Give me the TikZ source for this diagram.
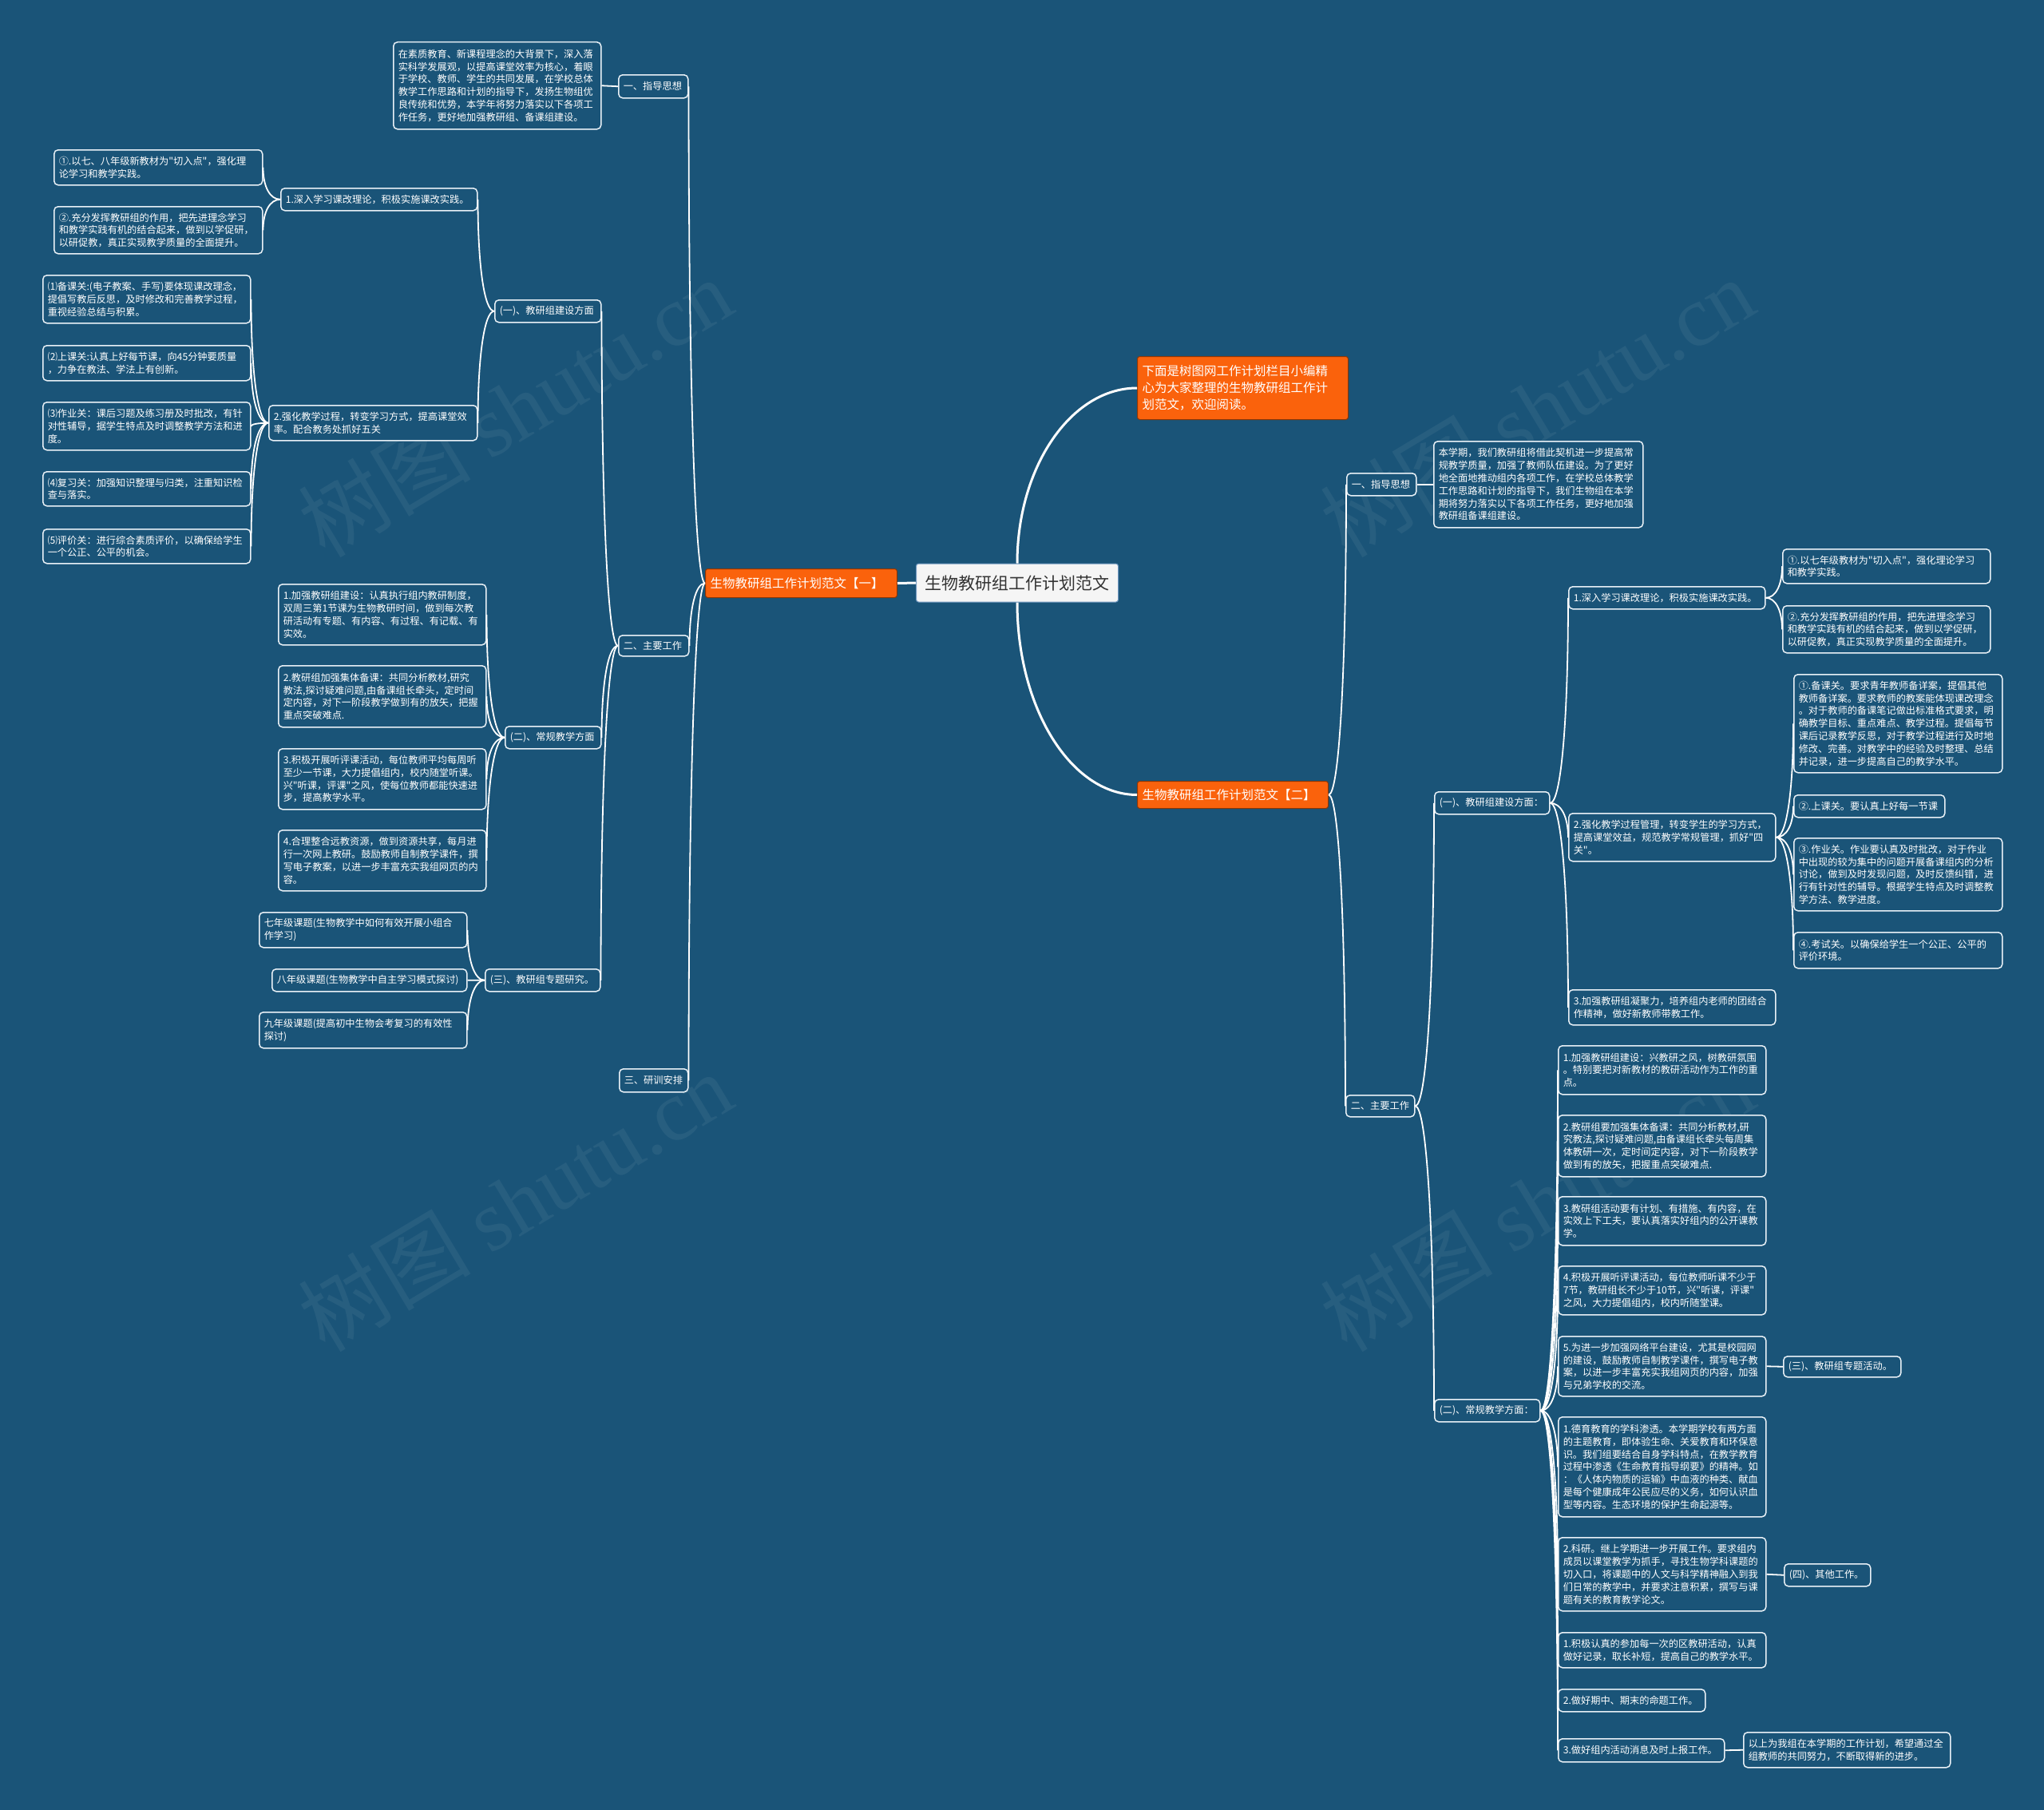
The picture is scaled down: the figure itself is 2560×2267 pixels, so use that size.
\documentclass[tikz,border=0pt]{standalone}
\usepackage{fontspec}
\setmainfont{Noto Sans CJK SC}[Ligatures=TeXOff]
\newfontfamily\wmserif{Liberation Serif}
\usetikzlibrary{calc}
\definecolor{bg}{RGB}{26,84,120}
\definecolor{org}{RGB}{250,98,12}
\definecolor{edgec}{RGB}{232,240,246}
\definecolor{cbord}{RGB}{110,150,190}
\tikzset{
  box/.style={draw=edgec, line width=1.5pt, rounded corners=5pt, fill=bg, text=white,
    align=left, inner xsep=6pt, inner ysep=2pt, font=\fontsize{12.2}{15.8}\selectfont},
  obox/.style={box, draw=org!55!black, fill=org, line width=1pt, rounded corners=3pt,
    font=\fontsize{15.5}{21}\selectfont},
  cbox/.style={draw=cbord, fill=black!4, text=black!80, line width=1pt, rounded corners=3pt,
    font=\fontsize{21}{25}\selectfont, align=center},
  link/.style={draw=white, line width=1.8pt},
  mainlink/.style={draw=white, line width=3pt},
  wm/.style={text=white, opacity=0.06, rotate=31, font=\fontsize{108}{108}\selectfont}
}
% #1 style, #2 name, #3 x1, #4 y1, #5 x2, #6 y2, #7 text
\newcommand\mmbox[7][box]{%
  \pgfmathsetmacro\mmbh{#6-#4}\pgfmathsetmacro\mmtw{#5-#3-12}%
  \node[#1, text width=\mmtw pt, minimum height=\mmbh pt, anchor=north west] (#2) at (#3,#4) {#7};}
% horizontal first, then vertical into child
\newcommand\mmlink[3][link]{%
  \draw[#1] (#2) .. controls ($(#2)!0.6!(#3 |- #2)$) and ($(#3)!0.6!(#3 |- #2)$) .. (#3);}
% vertical first, then horizontal into child
\newcommand\mmlinkv[3][link]{%
  \draw[#1] (#2) .. controls ($(#2)!0.55!(#2 |- #3)$) and ($(#3)!0.55!(#2 |- #3)$) .. (#3);}

\begin{document}
\begin{tikzpicture}[x=1pt,y=-1pt]
\useasboundingbox (0,0) rectangle (2560,2267);
\fill[bg] (0,0) rectangle (2560,2267);

% watermarks
\node[wm] (wm1) at (645,510) {树图 {\wmserif shutu.cn}};
\node[wm] (wm2) at (1925,510) {树图 {\wmserif shutu.cn}};
\node[wm] (wm3) at (645,1505) {树图 {\wmserif shutu.cn}};
\node[wm] (wm4) at (1925,1505) {树图 {\wmserif shutu.cn}};

% centre and first level
\node[cbox, minimum width=253pt, minimum height=48pt] (cen) at (1274,730) {生物教研组工作计划范文};
\mmbox[obox]{o1}{883}{712}{1123}{748}{生物教研组工作计划范文【一】}
\mmbox[obox]{o2}{1424}{978}{1663}{1012}{生物教研组工作计划范文【二】}
\mmbox[obox]{intro}{1424}{446}{1688}{525}{下面是树图网工作计划栏目小编精\\心为大家整理的生物教研组工作计\\划范文，欢迎阅读。}

% ---------------- left tree ----------------
\mmbox{lA}{774}{93}{861}{122}{一、指导思想}
\mmbox{lAt}{492}{52}{752}{161}{在素质教育、新课程理念的大背景下，深入落\\实科学发展观，以提高课堂效率为核心，着眼\\于学校、教师、学生的共同发展，在学校总体\\教学工作思路和计划的指导下，发扬生物组优\\良传统和优势，本学年将努力落实以下各项工\\作任务，更好地加强教研组、备课组建设。}
\mmbox{lB}{774}{795}{862}{821}{二、主要工作}
\mmbox{lC}{775}{1338}{861}{1367}{三、研训安排}
\mmbox{lB1}{619}{375}{752}{403}{(一)、教研组建设方面}
\mmbox{lB2}{632}{909}{752}{937}{(二)、常规教学方面}
\mmbox{lB3}{607}{1213}{751}{1241}{(三)、教研组专题研究。}
\mmbox{lB1a}{351}{235}{597}{263}{1.深入学习课改理论，积极实施课改实践。}
\mmbox{lB1b}{336}{507}{597}{551}{2.强化教学过程，转变学习方式，提高课堂效\\率。配合教务处抓好五关}
\mmbox{lB1a1}{67}{187}{328}{231}{①.以七、八年级新教材为"切入点"，强化理\\论学习和教学实践。}
\mmbox{lB1a2}{67}{258}{328}{317}{②.充分发挥教研组的作用，把先进理念学习\\和教学实践有机的结合起来，做到以学促研，\\以研促教，真正实现教学质量的全面提升。}
\mmbox{lB1b1}{53}{344}{313}{404}{⑴备课关:(电子教案、手写)要体现课改理念，\\提倡写教后反思，及时修改和完善教学过程，\\重视经验总结与积累。}
\mmbox{lB1b2}{53}{432}{313}{476}{⑵上课关:认真上好每节课，向45分钟要质量\\，力争在教法、学法上有创新。}
\mmbox{lB1b3}{53}{503}{313}{563}{⑶作业关：课后习题及练习册及时批改，有针\\对性辅导，据学生特点及时调整教学方法和进\\度。}
\mmbox{lB1b4}{53}{590}{313}{633}{⑷复习关：加强知识整理与归类，注重知识检\\查与落实。}
\mmbox{lB1b5}{53}{662}{313}{705}{⑸评价关：进行综合素质评价，以确保给学生\\一个公正、公平的机会。}
\mmbox{lB2a}{348}{731}{608}{807}{1.加强教研组建设：认真执行组内教研制度，\\双周三第1节课为生物教研时间，做到每次教\\研活动有专题、有内容、有过程、有记载、有\\实效。}
\mmbox{lB2b}{348}{833}{608}{910}{2.教研组加强集体备课：共同分析教材,研究\\教法,探讨疑难问题,由备课组长牵头，定时间\\定内容，对下一阶段教学做到有的放矢，把握\\重点突破难点.}
\mmbox{lB2c}{348}{937}{608}{1013}{3.积极开展听评课活动，每位教师平均每周听\\至少一节课，大力提倡组内，校内随堂听课。\\兴"听课，评课"之风，使每位教师都能快速进\\步，提高教学水平。}
\mmbox{lB2d}{348}{1039}{608}{1115}{4.合理整合远教资源，做到资源共享，每月进\\行一次网上教研。鼓励教师自制教学课件，撰\\写电子教案，以进一步丰富充实我组网页的内\\容。}
\mmbox{lB3a}{324}{1142}{584}{1186}{七年级课题(生物教学中如何有效开展小组合\\作学习)}
\mmbox{lB3b}{340}{1213}{584}{1241}{八年级课题(生物教学中自主学习模式探讨)}
\mmbox{lB3c}{324}{1267}{584}{1312}{九年级课题(提高初中生物会考复习的有效性\\探讨)}

% ---------------- right tree ----------------
\mmbox{rA}{1686}{592}{1773}{620}{一、指导思想}
\mmbox{rAt}{1795}{552}{2057}{660}{本学期，我们教研组将借此契机进一步提高常\\规教学质量，加强了教师队伍建设。为了更好\\地全面地推动组内各项工作，在学校总体教学\\工作思路和计划的指导下，我们生物组在本学\\期将努力落实以下各项工作任务，更好地加强\\教研组备课组建设。}
\mmbox{rB}{1685}{1371}{1771}{1398}{二、主要工作}
\mmbox{rB1}{1796}{991}{1940}{1019}{(一)、教研组建设方面：}
\mmbox{rB2}{1796}{1752}{1928}{1780}{(二)、常规教学方面：}
\mmbox{rB1a}{1964}{734}{2210}{762}{1.深入学习课改理论，积极实施课改实践。}
\mmbox{rB1a1}{2232}{687}{2492}{730}{①.以七年级教材为"切入点"，强化理论学习\\和教学实践。}
\mmbox{rB1a2}{2232}{758}{2492}{817}{②.充分发挥教研组的作用，把先进理念学习\\和教学实践有机的结合起来，做到以学促研，\\以研促教，真正实现教学质量的全面提升。}
\mmbox{rB1b}{1964}{1018}{2223}{1078}{2.强化教学过程管理，转变学生的学习方式，\\提高课堂效益，规范教学常规管理，抓好"四\\关"。}
\mmbox{rB1b1}{2246}{844}{2507}{967}{①.备课关。要求青年教师备详案，提倡其他\\教师备详案。要求教师的教案能体现课改理念\\。对于教师的备课笔记做出标准格式要求，明\\确教学目标、重点难点、教学过程。提倡每节\\课后记录教学反思，对于教学过程进行及时地\\修改、完善。对教学中的经验及时整理、总结\\并记录，进一步提高自己的教学水平。}
\mmbox{rB1b2}{2246}{995}{2435}{1023}{②.上课关。要认真上好每一节课}
\mmbox{rB1b3}{2246}{1049}{2507}{1140}{③.作业关。作业要认真及时批改，对于作业\\中出现的较为集中的问题开展备课组内的分析\\讨论，做到及时发现问题，及时反馈纠错，进\\行有针对性的辅导。根据学生特点及时调整教\\学方法、教学进度。}
\mmbox{rB1b4}{2246}{1167}{2507}{1212}{④.考试关。以确保给学生一个公正、公平的\\评价环境。}
\mmbox{rB1c}{1964}{1239}{2223}{1283}{3.加强教研组凝聚力，培养组内老师的团结合\\作精神，做好新教师带教工作。}
\mmbox{rB2a}{1951}{1309}{2211}{1370}{1.加强教研组建设：兴教研之风，树教研氛围\\。特别要把对新教材的教研活动作为工作的重\\点。}
\mmbox{rB2b}{1951}{1396}{2211}{1473}{2.教研组要加强集体备课：共同分析教材,研\\究教法,探讨疑难问题,由备课组长牵头每周集\\体教研一次，定时间定内容，对下一阶段教学\\做到有的放矢，把握重点突破难点.}
\mmbox{rB2c}{1951}{1498}{2211}{1559}{3.教研组活动要有计划、有措施、有内容，在\\实效上下工夫，要认真落实好组内的公开课教\\学。}
\mmbox{rB2d}{1951}{1585}{2211}{1646}{4.积极开展听评课活动，每位教师听课不少于\\7节，教研组长不少于10节，兴"听课，评课"\\之风，大力提倡组内，校内听随堂课。}
\mmbox{rB2e}{1951}{1673}{2211}{1748}{5.为进一步加强网络平台建设，尤其是校园网\\的建设，鼓励教师自制教学课件，撰写电子教\\案，以进一步丰富充实我组网页的内容，加强\\与兄弟学校的交流。}
\mmbox{rB2f}{1951}{1774}{2211}{1899}{1.德育教育的学科渗透。本学期学校有两方面\\的主题教育，即体验生命、关爱教育和环保意\\识。我们组要结合自身学科特点，在教学教育\\过程中渗透《生命教育指导纲要》的精神。如\\：《人体内物质的运输》中血液的种类、献血\\是每个健康成年公民应尽的义务，如何认识血\\型等内容。生态环境的保护生命起源等。}
\mmbox{rB2g}{1951}{1925}{2211}{2017}{2.科研。继上学期进一步开展工作。要求组内\\成员以课堂教学为抓手，寻找生物学科课题的\\切入口，将课题中的人文与科学精神融入到我\\们日常的教学中，并要求注意积累，撰写与课\\题有关的教育教学论文。}
\mmbox{rB2h}{1951}{2044}{2211}{2088}{1.积极认真的参加每一次的区教研活动，认真\\做好记录，取长补短，提高自己的教学水平。}
\mmbox{rB2i}{1951}{2115}{2135}{2143}{2.做好期中、期末的命题工作。}
\mmbox{rB2j}{1951}{2177}{2159}{2206}{3.做好组内活动消息及时上报工作。}
\mmbox{rB2e1}{2233}{1698}{2380}{1724}{(三)、教研组专题活动。}
\mmbox{rB2g1}{2234}{1958}{2342}{1986}{(四)、其他工作。}
\mmbox{rB2j1}{2183}{2169}{2442}{2213}{以上为我组在本学期的工作计划，希望通过全\\组教师的共同努力，不断取得新的进步。}

% ---------------- connectors ----------------
\draw[mainlink] (o1.east) -- (cen.west);
\mmlinkv[mainlink]{cen.north}{intro.west}
\mmlinkv[mainlink]{cen.south}{o2.west}

\mmlink{o1.west}{lA.east}
\mmlink{o1.west}{lB.east}
\mmlink{o1.west}{lC.east}
\draw[link] (lAt.east) -- (lA.west);
\mmlink{lB.west}{lB1.east}
\mmlink{lB.west}{lB2.east}
\mmlink{lB.west}{lB3.east}
\mmlink{lB1.west}{lB1a.east}
\mmlink{lB1.west}{lB1b.east}
\mmlink{lB1a.west}{lB1a1.east}
\mmlink{lB1a.west}{lB1a2.east}
\mmlink{lB1b.west}{lB1b1.east}
\mmlink{lB1b.west}{lB1b2.east}
\mmlink{lB1b.west}{lB1b3.east}
\mmlink{lB1b.west}{lB1b4.east}
\mmlink{lB1b.west}{lB1b5.east}
\mmlink{lB2.west}{lB2a.east}
\mmlink{lB2.west}{lB2b.east}
\mmlink{lB2.west}{lB2c.east}
\mmlink{lB2.west}{lB2d.east}
\mmlink{lB3.west}{lB3a.east}
\mmlink{lB3.west}{lB3b.east}
\mmlink{lB3.west}{lB3c.east}

\mmlink{o2.east}{rA.west}
\mmlink{o2.east}{rB.west}
\draw[link] (rA.east) -- (rAt.west);
\mmlink{rB.east}{rB1.west}
\mmlink{rB.east}{rB2.west}
\mmlink{rB1.east}{rB1a.west}
\mmlink{rB1.east}{rB1b.west}
\mmlink{rB1.east}{rB1c.west}
\mmlink{rB1a.east}{rB1a1.west}
\mmlink{rB1a.east}{rB1a2.west}
\mmlink{rB1b.east}{rB1b1.west}
\mmlink{rB1b.east}{rB1b2.west}
\mmlink{rB1b.east}{rB1b3.west}
\mmlink{rB1b.east}{rB1b4.west}
\mmlink{rB2.east}{rB2a.west}
\mmlink{rB2.east}{rB2b.west}
\mmlink{rB2.east}{rB2c.west}
\mmlink{rB2.east}{rB2d.west}
\mmlink{rB2.east}{rB2e.west}
\mmlink{rB2.east}{rB2f.west}
\mmlink{rB2.east}{rB2g.west}
\mmlink{rB2.east}{rB2h.west}
\mmlink{rB2.east}{rB2i.west}
\mmlink{rB2.east}{rB2j.west}
\draw[link] (rB2e.east) -- (rB2e1.west);
\draw[link] (rB2g.east) -- (rB2g1.west);
\draw[link] (rB2j.east) -- (rB2j1.west);
\end{tikzpicture}
\end{document}
